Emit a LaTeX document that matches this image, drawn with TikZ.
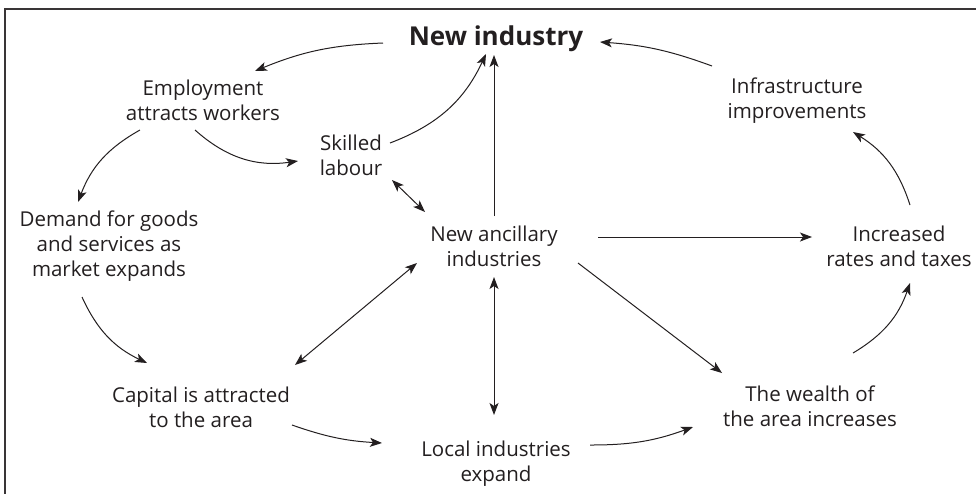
\documentclass[tikz,border=0pt]{standalone}
\usepackage{fontspec}
\setmainfont{Open Sans}
\usetikzlibrary{arrows.meta}
\definecolor{ink}{HTML}{231F20}
\begin{document}
\begin{tikzpicture}[x=1pt,y=-1pt,
  lbl/.style={align=center,font=\fontsize{20.5}{25}\selectfont,text=ink,inner sep=0pt},
  arr/.style={draw=ink,line width=1pt,-{Stealth[length=12pt,width=9pt,inset=3pt]}},
  darr/.style={draw=ink,line width=1pt,{Stealth[length=12pt,width=9pt,inset=3pt]}-{Stealth[length=12pt,width=9pt,inset=3pt]}}]
\useasboundingbox (0,0) rectangle (976,493);
\draw[line width=1.5pt,draw=ink!90] (5,500) -- (5,9) -- (985,9);
\node[lbl,anchor=base,font=\fontsize{26}{30}\selectfont\bfseries] (ni) at (496,45) {New industry};
\node[lbl] (emp) at (203,100) {Employment\\attracts workers};
\node[lbl] (skl) at (351,155) {Skilled\\labour};
\node[lbl] (dem) at (109,246) {Demand for goods\\and services as\\market expands};
\node[lbl] (anc) at (494,246) {New ancillary\\industries};
\node[lbl] (inc) at (899,246) {Increased\\rates and taxes};
\node[lbl] (inf) at (797,101) {Infrastructure\\improvements};
\node[lbl] (cap) at (201,407) {Capital is attracted\\to the area};
\node[lbl] (loc) at (496,464) {Local industries\\expand};
\node[lbl] (wea) at (810,406) {The wealth of\\the area increases};
% connectors
\draw[arr] ([shift={(-113,-2)}]ni.base) to[bend right=10] ([shift={(52,-29)}]emp.center);
\draw[arr] ([shift={(-85,-35)}]inf.center) to[bend right=8] ([shift={(104,-3)}]ni.base);
\draw[arr] ([shift={(39,-12)}]skl.center) to[bend right=22] ([shift={(-10,9)}]ni.base);
\draw[arr] ([shift={(0,-30)}]anc.center) -- ([shift={(-2,10)}]ni.base);
\draw[arr] ([shift={(-8,30)}]emp.center) to[bend right=25] ([shift={(-53,6)}]skl.center);
\draw[arr] ([shift={(-63,30)}]emp.center) to[bend right=20] ([shift={(-31,-44)}]dem.center);
\draw[darr] ([shift={(41,25)}]skl.center) -- ([shift={(-69,-34)}]anc.center);
\draw[arr] ([shift={(-27,51)}]dem.center) to[bend right=20] ([shift={(-54,-44)}]cap.center);
\draw[darr] ([shift={(-77,17)}]anc.center) -- ([shift={(94,-42)}]cap.center);
\draw[darr] ([shift={(0,31)}]anc.center) -- ([shift={(-2,-49)}]loc.center);
\draw[arr] ([shift={(91,18)}]cap.center) to[bend right=8] ([shift={(-114,-21)}]loc.center);
\draw[arr] ([shift={(104,-9)}]anc.center) -- ([shift={(-87,-9)}]inc.center);
\draw[arr] ([shift={(84,17)}]anc.center) -- ([shift={(-88,-33)}]wea.center);
\draw[arr] ([shift={(94,-19)}]loc.center) to[bend right=10] ([shift={(-117,21)}]wea.center);
\draw[arr] ([shift={(43,-53)}]wea.center) to[bend right=20] ([shift={(11,37)}]inc.center);
\draw[arr] ([shift={(11,-41)}]inc.center) to[bend right=20] ([shift={(56,31)}]inf.center);
\end{tikzpicture}
\end{document}
